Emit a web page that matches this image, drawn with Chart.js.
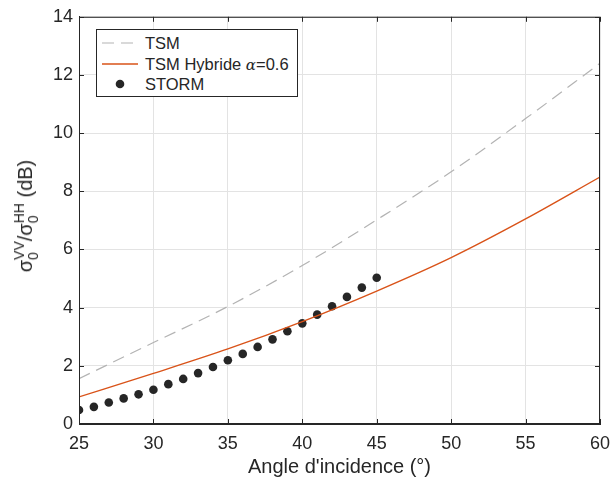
<!DOCTYPE html>
<html>
<head>
<meta charset="utf-8">
<script src="https://cdn.jsdelivr.net/npm/chart.js@4"></script>
<style>
  html, body { margin: 0; padding: 0; background: #fff; }
  #wrap { position: relative; width: 611px; height: 486px; font-family: 'Liberation Sans', Arial, sans-serif; color: #262626; }
  #legend { position: absolute; left: 96px; top: 29px; width: 200px; height: 66px; border: 1px solid #262626; background: #fff; font-size: 16.5px; }
  .row { position: absolute; left: 4px; height: 20px; line-height: 20px; white-space: nowrap; }
  .row svg { position: absolute; left: 0; top: 0; }
  .row span.t { position: absolute; left: 44px; top: 0; }
  .alpha { font-family: 'DejaVu Serif', serif; font-style: italic; font-size: 15px; }
  #ylab { position: absolute; left: 26px; top: 216px; transform: translate(-50%, -50%) rotate(-90deg); white-space: nowrap; font-size: 20px; }
  .ss { display: inline-block; vertical-align: -6px; line-height: 14px; font-size: 14px; }
  .ss span { display: block; }
</style>
</head>
<body>
<div id="wrap">
  <canvas id="chart" width="611" height="486"></canvas>
  <div id="legend">
    <div class="row" style="top:3px"><svg width="38" height="20"><line x1="1" y1="10" x2="37" y2="10" stroke="#b3b3b3" stroke-width="1.2" stroke-dasharray="12 7"/></svg><span class="t">TSM</span></div>
    <div class="row" style="top:24px"><svg width="38" height="20"><line x1="1" y1="10" x2="37" y2="10" stroke="#d95319" stroke-width="1.4"/></svg><span class="t">TSM Hybride <span class="alpha">α</span>=0.6</span></div>
    <div class="row" style="top:44px"><svg width="38" height="20"><circle cx="19" cy="10" r="4.3" fill="#262626"/></svg><span class="t">STORM</span></div>
  </div>
  <div id="ylab">σ<span class="ss"><span>VV</span><span>0</span></span>/σ<span class="ss"><span>HH</span><span>0</span></span> (dB)</div>
</div>
<script>
const angles = [25, 30, 35, 40, 45, 50, 55, 60];
const tsm = [1.56, 2.8, 4.04, 5.45, 7.02, 8.67, 10.5, 12.4];
const hybrid = [0.93, 1.74, 2.58, 3.52, 4.57, 5.72, 7.05, 8.49];
const stormAngles = [25, 26, 27, 28, 29, 30, 31, 32, 33, 34, 35, 36, 37, 38, 39, 40, 41, 42, 43, 44, 45];
const storm = [0.48, 0.59, 0.74, 0.88, 1.02, 1.18, 1.37, 1.55, 1.75, 1.96, 2.19, 2.41, 2.65, 2.91, 3.19, 3.46, 3.76, 4.05, 4.37, 4.69, 5.03];
const xTicks = [25, 30, 35, 40, 45, 50, 55, 60];
const yTicks = [0, 2, 4, 6, 8, 10, 12, 14];

const dark = '#262626';
const gridColor = '#e3e3e3';

// cadre complet + graduations vers l'intérieur (style MATLAB)
const boxPlugin = {
  id: 'box',
  afterDraw(chart) {
    const { ctx, chartArea: a, scales } = chart;
    ctx.save();
    ctx.strokeStyle = dark;
    ctx.lineWidth = 1;
    ctx.strokeRect(a.left + 0.5, a.top + 0.5, a.right - a.left - 1, a.bottom - a.top - 1);
    const len = 5;
    ctx.beginPath();
    xTicks.forEach(v => {
      const x = Math.round(scales.x.getPixelForValue(v)) + 0.5;
      ctx.moveTo(x, a.bottom); ctx.lineTo(x, a.bottom - len);
      ctx.moveTo(x, a.top); ctx.lineTo(x, a.top + len);
    });
    yTicks.forEach(v => {
      const y = Math.round(scales.y.getPixelForValue(v)) + 0.5;
      ctx.moveTo(a.left, y); ctx.lineTo(a.left + len, y);
      ctx.moveTo(a.right, y); ctx.lineTo(a.right - len, y);
    });
    ctx.stroke();
    ctx.restore();
  }
};

new Chart(document.getElementById('chart'), {
  type: 'line',
  data: {
    datasets: [
      {
        label: 'TSM',
        data: angles.map((a, i) => ({ x: a, y: tsm[i] })),
        borderColor: '#b3b3b3',
        borderWidth: 1.2,
        borderDash: [12, 7],
        pointRadius: 0,
        cubicInterpolationMode: 'monotone'
      },
      {
        label: 'TSM Hybride α=0.6',
        data: angles.map((a, i) => ({ x: a, y: hybrid[i] })),
        borderColor: '#d95319',
        borderWidth: 1.4,
        pointRadius: 0,
        cubicInterpolationMode: 'monotone'
      },
      {
        label: 'STORM',
        data: stormAngles.map((a, i) => ({ x: a, y: storm[i] })),
        showLine: false,
        pointRadius: 4.3,
        pointBackgroundColor: dark,
        pointBorderWidth: 0
      }
    ]
  },
  options: {
    responsive: false,
    animation: false,
    layout: { padding: { left: 0, right: 11, top: 14, bottom: 0 } },
    plugins: {
      legend: { display: false },
      tooltip: { enabled: false }
    },
    scales: {
      x: {
        type: 'linear',
        min: 25,
        max: 60,
        afterFit: s => { s.height = 62; s.paddingLeft = 0; s.paddingRight = 0; },
        afterBuildTicks: s => { s.ticks = xTicks.map(v => ({ value: v })); },
        grid: { color: gridColor, drawTicks: false },
        border: { color: dark },
        ticks: { color: dark, padding: 9, font: { family: 'Liberation Sans', size: 18 } },
        title: {
          display: true,
          text: "Angle d'incidence (°)",
          color: dark,
          font: { family: 'Liberation Sans', size: 20 },
          padding: { top: 0, bottom: 7 }
        }
      },
      y: {
        min: 0,
        max: 14,
        afterFit: s => { s.width = 79; },
        afterBuildTicks: s => { s.ticks = yTicks.map(v => ({ value: v })); },
        grid: { color: gridColor, drawTicks: false },
        border: { color: dark },
        ticks: { color: dark, padding: 6, font: { family: 'Liberation Sans', size: 18 } }
      }
    }
  },
  plugins: [boxPlugin]
});
</script>
</body>
</html>
